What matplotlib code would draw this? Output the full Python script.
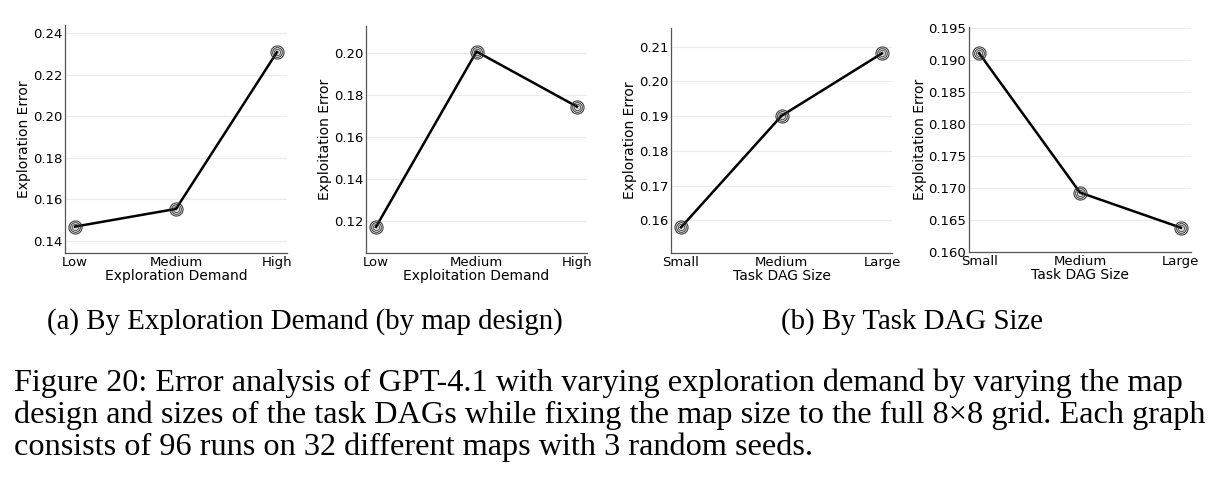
import matplotlib.pyplot as plt
import numpy as np

# ---- data ----
demand_levels = ["Low", "Medium", "High"]
dag_sizes = ["Small", "Medium", "Large"]

explore_err_by_demand = [0.1469, 0.1554, 0.2307]
exploit_err_by_demand = [0.1171, 0.2008, 0.1745]
explore_err_by_dag = [0.1580, 0.1901, 0.2081]
exploit_err_by_dag = [0.1911, 0.1693, 0.1638]

W, H = 1219, 480
fig = plt.figure(figsize=(W / 100, H / 100), dpi=100)


def px_axes(x0, y0, x1, y1):
    # pixel box (top-left origin) -> figure fraction
    return fig.add_axes([x0 / W, 1 - y1 / H, (x1 - x0) / W, (y1 - y0) / H])


def draw_panel(ax, cats, vals, xlabel, ylabel, ylim, yticks, fmt):
    x = np.arange(len(cats))
    ax.plot(x, vals, color="black", lw=1.8, zorder=3)
    # overlapping hollow circles like the original markers
    ax.plot(x, vals, ls="none", marker="o", ms=9.5, mfc="#aaaaaa",
            mec="none", alpha=0.45, zorder=2)
    for ms, mew in [(9.5, 0.7), (7, 0.6), (4.5, 0.5)]:
        ax.plot(x, vals, ls="none", marker="o", ms=ms, mfc="none",
                mec="#333333", mew=mew, zorder=4)
    ax.set_xlim(-0.1, 2.1)
    ax.set_ylim(*ylim)
    ax.set_xticks(x)
    ax.set_xticklabels(cats)
    ax.set_yticks(yticks)
    ax.set_yticklabels([fmt.format(t) for t in yticks])
    ax.tick_params(length=0, labelsize=9.5, pad=2)
    ax.grid(axis="y", color="#ebebeb", lw=0.8)
    ax.set_axisbelow(True)
    for s in ["top", "right"]:
        ax.spines[s].set_visible(False)
    for s in ["left", "bottom"]:
        ax.spines[s].set_color("#555555")
        ax.spines[s].set_linewidth(0.9)
    ax.set_xlabel(xlabel, fontsize=10, labelpad=0)
    ax.set_ylabel(ylabel, fontsize=10, labelpad=1)


ax1 = px_axes(65, 25, 287, 253)
draw_panel(ax1, demand_levels, explore_err_by_demand, "Exploration Demand",
           "Exploration Error", (0.1342, 0.2438), np.arange(0.14, 0.2401, 0.02), "{:.2f}")

ax2 = px_axes(366, 26, 587, 253)
draw_panel(ax2, demand_levels, exploit_err_by_demand, "Exploitation Demand",
           "Exploitation Error", (0.1046, 0.2130), np.arange(0.12, 0.2001, 0.02), "{:.2f}")

ax3 = px_axes(671, 28, 892, 253)
draw_panel(ax3, dag_sizes, explore_err_by_dag, "Task DAG Size",
           "Exploration Error", (0.1506, 0.2154), np.arange(0.16, 0.2101, 0.01), "{:.2f}")

ax4 = px_axes(969, 27, 1191, 252)
draw_panel(ax4, dag_sizes, exploit_err_by_dag, "Task DAG Size",
           "Exploitation Error", (0.160, 0.1952), np.arange(0.160, 0.1951, 0.005), "{:.3f}")

# ---- captions ----
serif = "Liberation Serif"
fig.text(305 / W, 1 - 322 / H, "(a) By Exploration Demand (by map design)",
         family=serif, fontsize=20.8, va="center", ha="center")
fig.text(912 / W, 1 - 322 / H, "(b) By Task DAG Size",
         family=serif, fontsize=20.8, va="center", ha="center")

caption = [
    "Figure 20: Error analysis of GPT-4.1 with varying exploration demand by varying the map",
    "design and sizes of the task DAGs while fixing the map size to the full 8\u00d78 grid. Each graph",
    "consists of 96 runs on 32 different maps with 3 random seeds.",
]
for i, line in enumerate(caption):
    fig.text(14 / W, 1 - (383 + 32 * i) / H, line, family=serif, fontsize=23.2,
             va="center", ha="left")

fig.savefig("out.png", dpi=100)
